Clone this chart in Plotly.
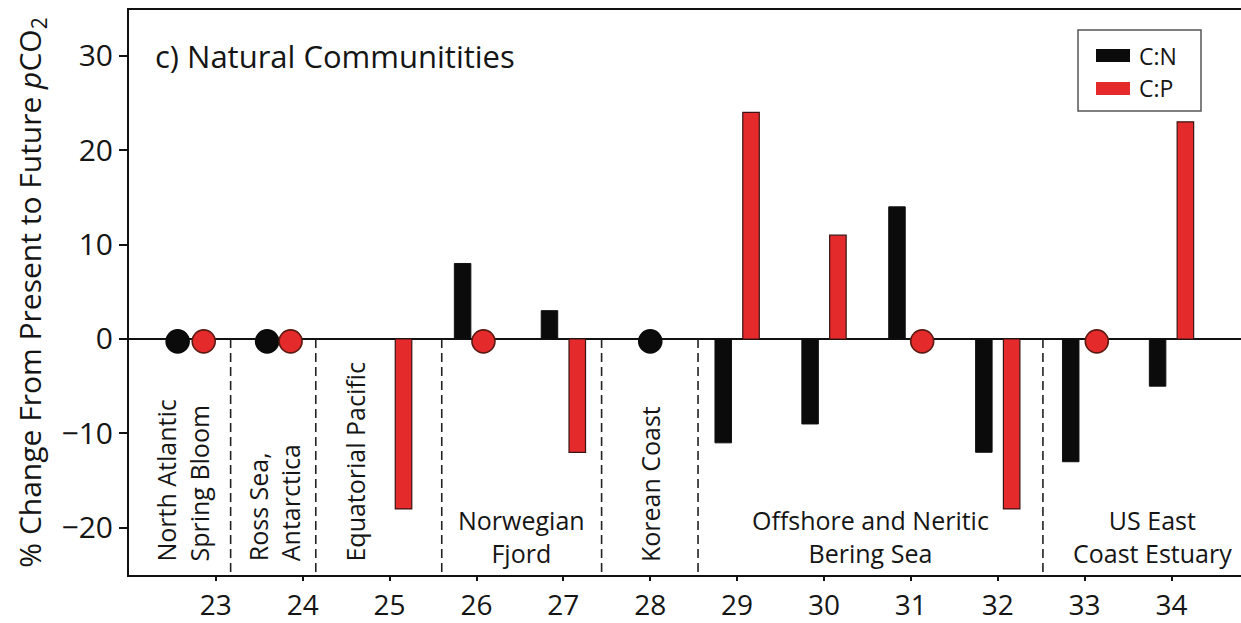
import plotly.graph_objects as go

# Experiment number on the x axis
sites = [23, 24, 25, 26, 27, 28, 29, 30, 31, 32, 33, 34]
# % change from present to future pCO2 (0 = no change, None = not measured)
c_to_n = [0, 0, None, 8, 3, 0, -11, -9, 14, -12, -13, -5]
c_to_p = [0, 0, -18, 0, -12, None, 24, 11, 0, -18, 0, 23]

tick_vals_y = [-20, -10, 0, 10, 20, 30]

# Study regions: (label, x centre, rotated?)
regions = [
    ("North Atlantic<br>Spring Bloom", 22.62, True),
    ("Ross Sea,<br>Antarctica", 23.67, True),
    ("Equatorial Pacific", 24.6, True),
    ("Norwegian<br>Fjord", 26.52, False),
    ("Korean Coast", 27.99, True),
    ("Offshore and Neritic<br>Bering Sea", 30.53, False),
    ("US East<br>Coast Estuary", 33.78, False),
]
region_breaks = [23.17, 24.15, 25.6, 27.44, 28.55, 32.52]

FONT = "Open Sans"
RED = "#e42a2b"
BLACK = "#0b0b0b"
INK = "#151515"
BAR_W = 0.19

# "no change" circles sit beside the tick; where both ratios are unchanged they sit side by side
circle_shift = {
    ("n", 23): -0.44, ("p", 23): -0.14,
    ("n", 24): -0.41, ("p", 24): -0.14,
    ("n", 28): 0.0,
    ("p", 26): 0.08, ("p", 31): 0.13, ("p", 33): 0.14,
}
CIRCLE_DROP = 0.25

fig = go.Figure()

def bar_values(vals):
    return [v if v else None for v in vals]

fig.add_trace(go.Bar(
    x=sites, y=bar_values(c_to_n), width=BAR_W, offset=-0.255,
    marker=dict(color=BLACK, line=dict(color="#111", width=1)),
    name="C:N", showlegend=False,
))
fig.add_trace(go.Bar(
    x=sites, y=bar_values(c_to_p), width=BAR_W, offset=0.065,
    marker=dict(color=RED, line=dict(color="#3a1414", width=1.2)),
    name="C:P", showlegend=False,
))

for key, vals, fill, edge in (("n", c_to_n, BLACK, BLACK), ("p", c_to_p, RED, "#5a1a12")):
    xs = [s + circle_shift[(key, s)] for s, v in zip(sites, vals) if v == 0]
    ys = [v - CIRCLE_DROP for v in vals if v == 0]
    fig.add_trace(go.Scatter(
        x=xs, y=ys, mode="markers", showlegend=False,
        marker=dict(size=23, color=fill, line=dict(color=edge, width=1.6)),
    ))

shapes = []
for xb in region_breaks:
    shapes.append(dict(type="line", xref="x", yref="y", x0=xb, x1=xb, y0=0, y1=-25,
                       line=dict(color="#222", width=1.6, dash="9px,5px")))

# Legend box drawn in paper space
def px_x(p):
    return (p - 129) / 1112.0

def px_y(p):
    return (575 - p) / 565.0

shapes.append(dict(type="rect", xref="paper", yref="paper",
                   x0=px_x(1078), x1=px_x(1201), y0=px_y(111), y1=px_y(30),
                   line=dict(color="#555", width=1.5), fillcolor="white"))
shapes.append(dict(type="rect", xref="paper", yref="paper",
                   x0=px_x(1096), x1=px_x(1130), y0=px_y(62), y1=px_y(49),
                   line=dict(width=0), fillcolor=BLACK))
shapes.append(dict(type="rect", xref="paper", yref="paper",
                   x0=px_x(1096), x1=px_x(1130), y0=px_y(95), y1=px_y(82),
                   line=dict(width=0), fillcolor=RED))

annotations = []
for text, xc, rotated in regions:
    if rotated:
        annotations.append(dict(x=xc, y=-23.8, xref="x", yref="y", text=text,
                                textangle=-90, showarrow=False, align="left",
                                xanchor="center", yanchor="bottom",
                                font=dict(family=FONT, size=25, color=INK)))
    else:
        annotations.append(dict(x=xc, y=-24.7, xref="x", yref="y", text=text,
                                showarrow=False, align="center",
                                xanchor="center", yanchor="bottom",
                                font=dict(family=FONT, size=25, color=INK)))

annotations.append(dict(x=px_x(1137), y=px_y(56), xref="paper", yref="paper",
                        text="C:N", showarrow=False, xanchor="left", yanchor="middle",
                        font=dict(family=FONT, size=23, color=INK)))
annotations.append(dict(x=px_x(1137), y=px_y(88), xref="paper", yref="paper",
                        text="C:P", showarrow=False, xanchor="left", yanchor="middle",
                        font=dict(family=FONT, size=23, color=INK)))
annotations.append(dict(x=px_x(153), y=px_y(56), xref="paper", yref="paper",
                        text="c) Natural Communitities", showarrow=False,
                        xanchor="left", yanchor="middle",
                        font=dict(family=FONT, size=31, color=INK)))

fig.update_layout(
    width=1241, height=623,
    margin=dict(l=129, r=0, t=10, b=48),
    paper_bgcolor="white", plot_bgcolor="white",
    barmode="overlay",
    shapes=shapes, annotations=annotations,
    font=dict(family=FONT, color=INK),
    xaxis=dict(
        range=[22, 34.8], tickvals=sites, ticktext=[str(s) for s in sites],
        showgrid=False, zeroline=False, automargin=False,
        showline=True, linecolor="#111", linewidth=2, mirror=True,
        ticks="outside", ticklen=4, tickwidth=2, tickcolor="#111",
        tickfont=dict(family=FONT, size=28, color=INK),
    ),
    yaxis=dict(
        range=[-25, 34.85], tickvals=tick_vals_y, automargin=False,
        showgrid=False, zeroline=True, zerolinecolor="#111", zerolinewidth=2,
        showline=True, linecolor="#111", linewidth=2,
        ticks="outside", ticklen=8, tickwidth=2, tickcolor="#111",
        tickfont=dict(family=FONT, size=30, color=INK),
        title=dict(text="% Change From Present to Future <i>p</i>CO<sub>2</sub>",
                   font=dict(family=FONT, size=30, color=INK), standoff=11),
    ),
)

fig.write_html("out.html")
